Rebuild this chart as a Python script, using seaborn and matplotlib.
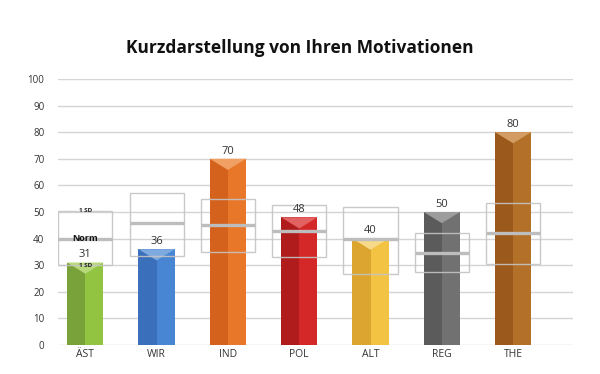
import numpy as np
import matplotlib
matplotlib.use("Agg")
import matplotlib.pyplot as plt
import seaborn as sns
from matplotlib.patches import Rectangle, Polygon

# data
categories = ["ÄST", "WIR", "IND", "POL", "ALT", "REG", "THE"]
scores = [31, 36, 70, 48, 40, 50, 80]
norm_mean = [40, 46, 45, 43, 40, 34.5, 42]
norm_low = [30, 33.5, 35, 33, 26.5, 27.5, 30.5]
norm_high = [50.5, 57, 55, 52.5, 52, 42, 53.5]
yticks = list(range(0, 101, 10))

# bar colours: left (shadow) half, right half, top notch
dark = ["#7aa23a", "#3a6fbb", "#d4621c", "#b01b1b", "#dba52f", "#5b5b5b", "#9b5a1c"]
light = ["#92c441", "#4886d3", "#e8772a", "#d42727", "#f3c344", "#717171", "#b37029"]
notch = ["#b7d97c", "#7faae0", "#f0a062", "#e26262", "#f7d98a", "#9c9c9c", "#d29c62"]

sns.set_style("white")
plt.rcParams["font.family"] = ["Open Sans", "DejaVu Sans"]

fig = plt.figure(figsize=(6, 3.74), dpi=100)
ax = fig.add_axes([0.097, 0.0775, 0.858, 0.7115])

bw = 0.51
sns.barplot(x=categories, y=scores, hue=categories, palette=dark, legend=False,
            width=bw, saturation=1, linewidth=0, ax=ax, zorder=2)
xs = np.arange(len(categories))
ax.bar(xs + bw / 4, scores, width=bw / 2, color=light, linewidth=0, zorder=2)

# top notch on each bar
for i, v in enumerate(scores):
    tri = Polygon([(i - bw / 2, v), (i + bw / 2, v), (i, v - 4.2)],
                  closed=True, facecolor=notch[i], edgecolor="none", zorder=3)
    ax.add_patch(tri)

# norm boxes (mean +/- 1 SD)
boxw = 0.76
for i in range(len(categories)):
    ax.add_patch(Rectangle((i - boxw / 2, norm_low[i]), boxw, norm_high[i] - norm_low[i],
                           facecolor="none", edgecolor="#c4c4c4", lw=1.0, alpha=0.9, zorder=4))
    ax.plot([i - boxw / 2, i + boxw / 2], [norm_mean[i]] * 2, color="#bdbdbd",
            lw=2.4, solid_capstyle="butt", zorder=4)

# value labels
for i, v in enumerate(scores):
    ax.text(i, v + 0.8, str(v), ha="center", va="bottom", fontsize=8, color="#333333", zorder=5)

# annotations on the first box
ax.text(0, norm_high[0], "1 SD", ha="center", va="center", fontsize=4.5,
        fontweight="bold", color="#222222", zorder=5)
ax.text(0, norm_low[0], "1 SD", ha="center", va="center", fontsize=4.5,
        fontweight="bold", color="#222222", zorder=5)
ax.text(0, norm_mean[0], "Norm", ha="center", va="center", fontsize=6.5,
        fontweight="bold", color="#111111", zorder=5)

ax.set_xlim(-0.38, 6.84)
ax.set_ylim(0, 100)
ax.set_yticks(yticks)
ax.grid(axis="y", color="#d4d4d4", lw=1, zorder=0)
ax.set_axisbelow(True)
for s in ax.spines.values():
    s.set_visible(False)
ax.tick_params(axis="y", length=0, labelsize=7, colors="#333333", pad=10)
ax.tick_params(axis="x", length=0, labelsize=7.5, colors="#333333", pad=3)
ax.set_xlabel("")
ax.set_ylabel("")

fig.text(0.5, 0.872, "Kurzdarstellung von Ihren Motivationen", ha="center", va="center",
         fontsize=12.5, fontweight="bold", color="#111111")

fig.savefig("out.png", dpi=100)
